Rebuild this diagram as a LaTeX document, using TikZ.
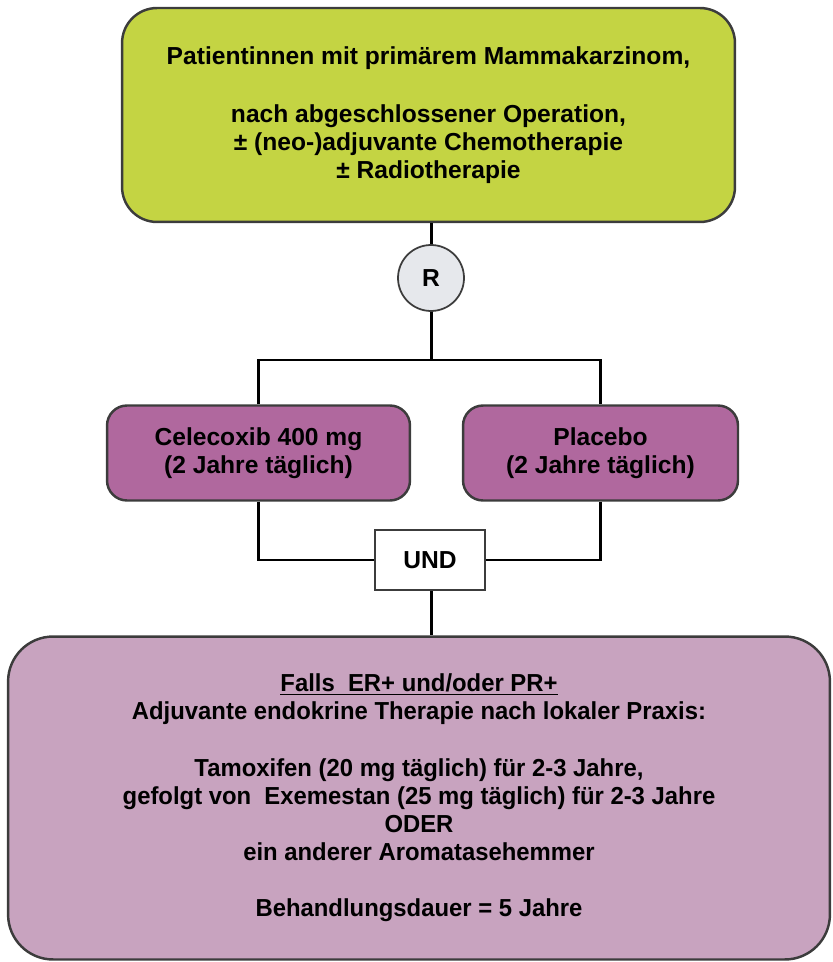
\documentclass[tikz,border=0pt]{standalone}
\usepackage{fontspec}
\setmainfont{Liberation Sans}
\newfontfamily\narrowfont[FakeStretch=0.97]{Liberation Sans}
\usepackage{tikz}
\usetikzlibrary{positioning,calc}
\definecolor{limec}{HTML}{C4D443}
\definecolor{armc}{HTML}{B0689E}
\definecolor{endoc}{HTML}{C8A3BF}
\definecolor{randc}{HTML}{E6E8EC}
\definecolor{framec}{HTML}{3C3C3C}

\begin{document}
\begin{tikzpicture}[x=0.02cm,y=-0.02cm,
  box/.style={draw=framec,line width=1.4pt,rounded corners=0.7cm,align=center,
    font=\fontsize{14}{16}\selectfont\bfseries,inner sep=0pt},
  popbox/.style={box,fill=limec,minimum width=12.26cm,minimum height=4.28cm},
  armbox/.style={box,fill=armc,rounded corners=0.4cm,minimum height=1.9cm},
  endobox/.style={box,fill=endoc,rounded corners=0.9cm,minimum width=16.44cm,minimum height=6.46cm,
    font=\fontsize{14}{16}\selectfont\bfseries\narrowfont},
  randnode/.style={circle,draw=framec,line width=1pt,fill=randc,minimum size=1.32cm,inner sep=0pt,
    font=\fontsize{14}{16}\selectfont\bfseries},
  undbox/.style={draw=framec,line width=1.4pt,fill=white,minimum width=2.2cm,minimum height=1.2cm,
    font=\fontsize{14}{16}\selectfont\bfseries},
  link/.style={draw=black,line width=1.7pt}]
  \useasboundingbox (0,0) rectangle (832,962);

  % population
  \node[popbox] (pop) at (428.5,115) {Patientinnen mit primärem Mammakarzinom,\\[17pt]
    nach abgeschlossener Operation,\\ ± (neo-)adjuvante Chemotherapie\\ ± Radiotherapie};
  \node[randnode] (rand) at (431,278) {R};

  % study arms
  \node[armbox,minimum width=6.06cm] (cele) at (258.5,453) {Celecoxib 400 mg\\ (2 Jahre täglich)};
  \node[armbox,minimum width=5.5cm] (plac) at (600.5,453) {Placebo\\ (2 Jahre täglich)};
  \node[undbox] (und) at (430,560) {UND};

  % endocrine therapy
  \node[endobox] (endo) at (419,798) {\underline{Falls\ \ ER+ und/oder PR+}\\
    Adjuvante endokrine Therapie nach lokaler Praxis:\\[16pt]
    Tamoxifen (20 mg täglich) für 2-3 Jahre,\\
    gefolgt von\ \ Exemestan (25 mg täglich) für 2-3 Jahre\\
    ODER\\ ein anderer Aromatasehemmer\\[16pt]
    Behandlungsdauer = 5 Jahre};

  \coordinate (split) at (431,360);
  \draw[link] (pop.south -| rand) -- (rand);
  \draw[link] (rand) -- (split);
  \draw[link] (cele.north) -- (cele.north |- split) -- (plac.north |- split) -- (plac.north);
  \draw[link] (cele.south) |- (und.west);
  \draw[link] (plac.south) |- (und.east);
  \draw[link] (und.south -| rand) -- (endo.north -| rand);
\end{tikzpicture}
\end{document}
